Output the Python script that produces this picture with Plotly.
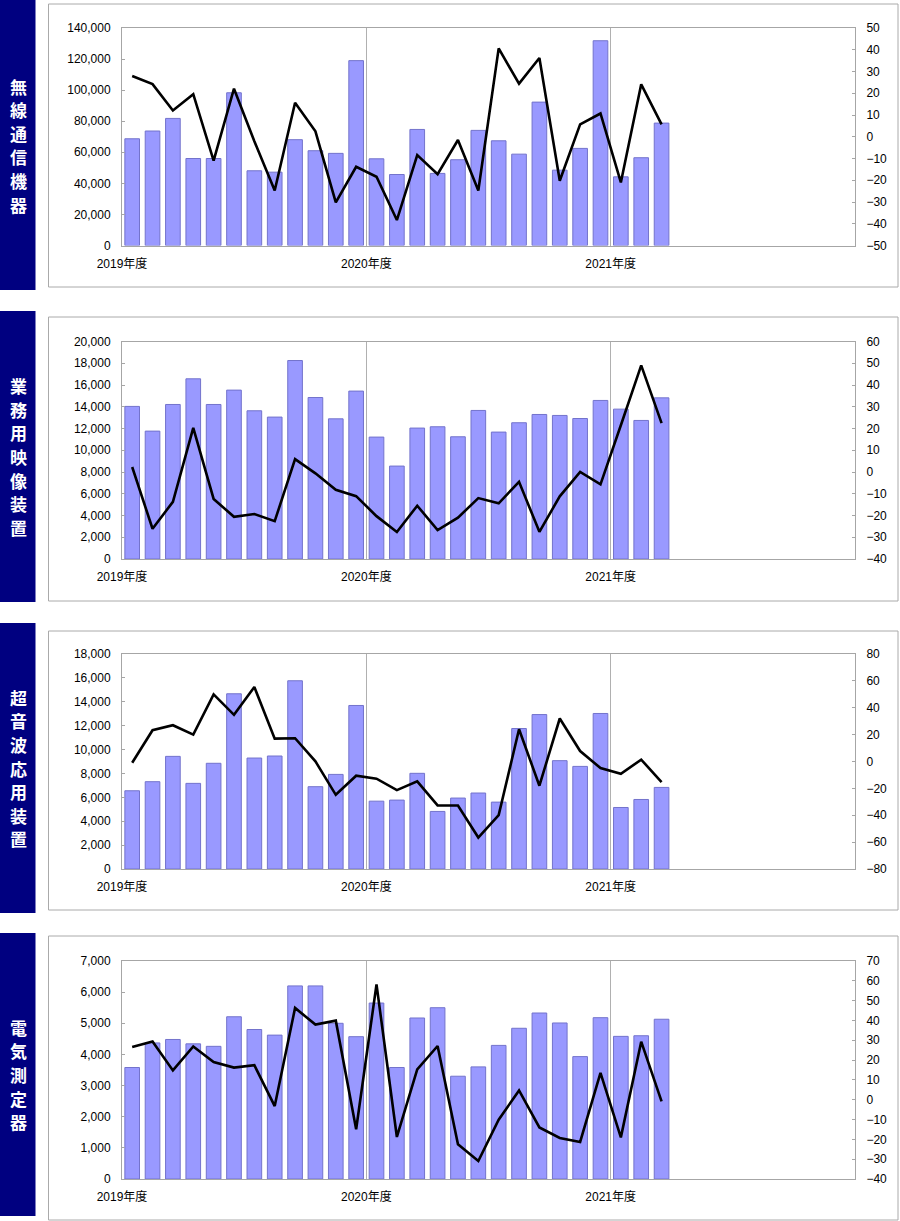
import plotly.graph_objects as go

# ---- data (Apr 2019 .. Jun 2021, monthly) ----
year_ticks = ["2019年度", "2020年度", "2021年度"]
months_total = 36

titles = ["無線通信機器", "業務用映像装置", "超音波応用装置", "電気測定器"]

wireless_units = [68700, 73700, 81800, 56000, 56000, 98300, 48100, 47200, 68100, 61000, 59300, 119000,
                  55800, 45700, 74700, 46400, 55200, 74100, 67400, 58800, 92300, 48500, 62500, 131800,
                  44200, 56500, 78800]
wireless_yoy = [27.9, 24.2, 12.1, 19.6, -11.0, 22.1, -2.1, -24.7, 15.6, 2.5, -30.2, -13.8,
                -18.4, -38.3, -8.4, -17.2, -1.5, -24.7, 40.6, 24.4, 36.2, -20.2, 5.7, 10.7,
                -21.0, 24.1, 5.7]

video_units = [14030, 11760, 14210, 16570, 14210, 15530, 13630, 13050, 18250, 14850, 12890, 15440,
               11210, 8545, 12040, 12160, 11240, 13660, 11670, 12530, 13290, 13200, 12920, 14580,
               13780, 12740, 14820]
video_yoy = [2.3, -26.1, -13.7, 20.3, -12.4, -20.6, -19.3, -22.6, 5.9, -0.6, -8.2, -11.1,
             -20.3, -27.6, -15.5, -26.7, -21.0, -12.0, -14.4, -4.5, -27.5, -11.2, 0.0, -5.7,
             21.5, 49.0, 22.5]

ultra_units = [6550, 7310, 9430, 7170, 8850, 14670, 9290, 9460, 15760, 6890, 7920, 13690,
               5680, 5770, 8010, 4820, 5940, 6360, 5600, 11760, 12930, 9070, 8590, 13020,
               5150, 5820, 6830]
ultra_yoy = [-0.9, 23.3, 27.0, 20.0, 49.9, 34.7, 55.4, 17.0, 17.3, 0.1, -24.8, -10.6,
             -12.8, -21.3, -14.8, -32.7, -32.7, -56.6, -39.9, 24.0, -18.0, 32.0, 7.8, -4.9,
             -9.1, 1.4, -15.3]

elec_units = [3580, 4370, 4480, 4340, 4260, 5210, 4800, 4620, 6200, 6200, 5000, 4570,
              5650, 3580, 5170, 5500, 3300, 3600, 4290, 4840, 5330, 5010, 3930, 5180,
              4580, 4600, 5130]
elec_yoy = [26.6, 29.4, 14.8, 26.9, 19.0, 16.2, 17.4, -3.2, 46.3, 37.9, 39.9, -14.9,
            58.2, -18.8, 15.3, 27.1, -22.5, -30.9, -10.1, 4.7, -14.0, -19.3, -21.3, 13.5,
            -19.0, 29.3, -0.8]

left_ranges = [(0, 140000, 20000), (0, 20000, 2000), (0, 18000, 2000), (0, 7000, 1000)]
right_ranges = [(-50, 50, 10), (-40, 60, 10), (-80, 80, 20), (-40, 70, 10)]

units = [wireless_units, video_units, ultra_units, elec_units]
yoys = [wireless_yoy, video_yoy, ultra_yoy, elec_yoy]

# ---- layout geometry (pixels) ----
W, H = 900, 1221
plot_x = (122, 855)
plot_y = [(28, 245.5), (341.5, 559), (654, 869), (961, 1179)]
frames = [(4, 287), (317, 601), (631, 910), (936, 1220)]
label_boxes = [(0, 290), (311, 602), (623, 913), (933, 1216)]
char_step = 23.6

def px(x):
    return x / W

def py(y):
    return 1 - y / H

FONT = "Liberation Sans, Arial, Noto Sans CJK JP"
AX = "#a6a6a6"

fig = go.Figure()
layout = dict(width=W, height=H, autosize=False,
              margin=dict(l=0, r=0, t=0, b=0, pad=0),
              paper_bgcolor="white", plot_bgcolor="white",
              showlegend=False, font=dict(family=FONT, size=12, color="black"),
              shapes=[], annotations=[], bargap=0.28)

for k in range(4):
    xa = "x" if k == 0 else f"x{k+1}"
    ya_i, yb_i = 2 * k + 1, 2 * k + 2
    ya = "y" if ya_i == 1 else f"y{ya_i}"
    yb = f"y{yb_i}"
    xs = [i + 0.5 for i in range(len(units[k]))]

    fig.add_trace(go.Bar(x=xs, y=units[k], xaxis=xa, yaxis=ya,
                         marker=dict(color="#9999ff", line=dict(color="#7373cc", width=1)),
                         width=0.72))
    fig.add_trace(go.Scatter(x=xs, y=yoys[k], xaxis=xa, yaxis=yb, mode="lines",
                             line=dict(color="black", width=2.6)))

    top, bot = plot_y[k]
    dom_y = [py(bot), py(top)]
    xkey = "xaxis" if k == 0 else f"xaxis{k+1}"
    ykey = "yaxis" if ya_i == 1 else f"yaxis{ya_i}"
    y2key = f"yaxis{yb_i}"

    layout[xkey] = dict(domain=[px(plot_x[0]), px(plot_x[1])], anchor=ya,
                        range=[0, months_total], tickmode="array",
                        tickvals=[0, 12, 24], ticktext=year_ticks,
                        showgrid=True, gridcolor="#b0b0b0", gridwidth=1,
                        showline=True, linecolor=AX, linewidth=1, mirror=True,
                        ticks="", ticklabelstandoff=7, zeroline=False, automargin=False,
                        tickfont=dict(family=FONT, size=12, color="black"))
    lo, hi, dt = left_ranges[k]
    layout[ykey] = dict(domain=dom_y, anchor=xa, range=[lo, hi], dtick=dt, tick0=lo,
                        tickformat=",d", showgrid=False, zeroline=False,
                        showline=True, linecolor=AX, linewidth=1,
                        ticks="inside", ticklen=3, tickcolor=AX,
                        ticklabelstandoff=8, automargin=False,
                        tickfont=dict(family=FONT, size=12, color="black"))
    lo2, hi2, dt2 = right_ranges[k]
    layout[y2key] = dict(domain=dom_y, anchor=xa, overlaying=ya, side="right",
                         range=[lo2, hi2], dtick=dt2, tick0=lo2,
                         showgrid=False, zeroline=False,
                         showline=True, linecolor=AX, linewidth=1,
                         ticks="inside", ticklen=3, tickcolor=AX,
                         ticklabelstandoff=8, automargin=False,
                         tickfont=dict(family=FONT, size=12, color="black"))

    # outer frame
    ft, fb = frames[k]
    layout["shapes"].append(dict(type="rect", xref="paper", yref="paper",
                                 x0=px(48.5), x1=px(898), y0=py(fb), y1=py(ft),
                                 line=dict(color="#aaaaaa", width=1), fillcolor="rgba(0,0,0,0)",
                                 layer="below"))
    # navy label box
    lt, lb = label_boxes[k]
    layout["shapes"].append(dict(type="rect", xref="paper", yref="paper",
                                 x0=0, x1=px(35.5), y0=py(lb), y1=py(lt),
                                 line=dict(width=0), fillcolor="#000080", layer="below"))
    chars = list(titles[k])
    mid = (lt + lb) / 2
    n = len(chars)
    for j, ch in enumerate(chars):
        cy = mid + (j - (n - 1) / 2) * char_step
        layout["annotations"].append(dict(xref="paper", yref="paper",
                                          x=px(18), y=py(cy),
                                          xanchor="center", yanchor="middle",
                                          text=ch, showarrow=False,
                                          font=dict(family="Noto Sans CJK JP", size=17,
                                                    color="white", weight="bold")))

fig.update_layout(**layout)
fig.write_html("out.html",
               config={"displayModeBar": False},
               post_script="document.body.style.margin='0';document.body.style.overflow='hidden';")
